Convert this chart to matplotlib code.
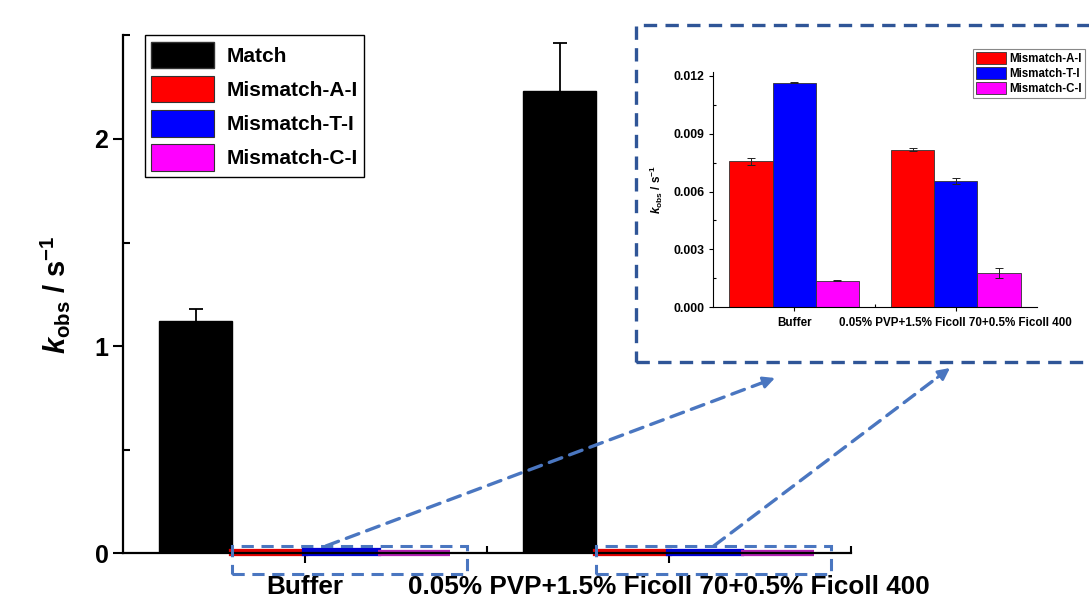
import numpy as np
import matplotlib
matplotlib.use('Agg')
import matplotlib.pyplot as plt
from matplotlib.patches import Rectangle
from matplotlib.ticker import MultipleLocator, FixedLocator

plt.rcParams['font.family'] = ['Liberation Sans', 'DejaVu Sans']
plt.rcParams['font.weight'] = 'bold'
plt.rcParams['axes.labelweight'] = 'bold'
plt.rcParams['mathtext.fontset'] = 'custom'
plt.rcParams['mathtext.rm'] = 'Liberation Sans:bold'
plt.rcParams['mathtext.it'] = 'Liberation Sans:bold:italic'
plt.rcParams['mathtext.bf'] = 'Liberation Sans:bold'

# data
groups = ['Buffer', '0.05% PVP+1.5% Ficoll 70+0.5% Ficoll 400']
series = ['Match', 'Mismatch-A-I', 'Mismatch-T-I', 'Mismatch-C-I']
match = [1.12, 2.23]
match_err = [0.06, 0.235]
mis_a = [0.00756, 0.00818]
mis_a_err = [0.0002, 0.0001]
mis_t = [0.01165, 0.00655]
mis_t_err = [0.00002, 0.00016]
mis_c = [0.00138, 0.00178]
mis_c_err = [0.00002, 0.00026]
colors = ['black', '#ff0000', '#0000ff', '#ff00ff']
strip_colors = ['black', '#e00000', '#0000d0', '#b020b0']

values = [match, mis_a, mis_t, mis_c]
errors = [match_err, mis_a_err, mis_t_err, mis_c_err]

box_col = '#4a76c0'
frame_col = '#2f5597'
ylab = r'$\mathit{k}_{\mathrm{obs}}$ / s$^{\mathrm{-1}}$'

fig = plt.figure(figsize=(10.89, 6.0), dpi=100)
ax = fig.add_axes([0.113, 0.078, 0.668, 0.863])

x = np.arange(1, len(groups) + 1)
w = 0.2
for i, (vals, errs) in enumerate(zip(values, errors)):
    pos = x + (i - 1.5) * w
    if i == 0:
        ax.bar(pos, vals, w, color=colors[i], label=series[i], edgecolor='black', linewidth=1.0,
               yerr=errs, capsize=5, error_kw=dict(ecolor='black', elinewidth=1.3, capthick=1.3))
    else:
        # tiny values: outline in the series colour so they read as strips
        ax.bar(pos, vals, w, color=colors[i], edgecolor=strip_colors[i], linewidth=4.5,
               zorder=2, clip_on=False)
        ax.bar(pos, 0, 0, color=colors[i], edgecolor='#333333', linewidth=0.8, label=series[i])

ax.set_xlim(0.5, 2.5)
ax.set_ylim(0, 2.5)
ax.spines['top'].set_visible(False)
ax.spines['right'].set_visible(False)
ax.spines['left'].set_linewidth(1.6)
ax.spines['bottom'].set_linewidth(1.6)
ax.spines['bottom'].set_zorder(4)
ax.set_xticks(x)
ax.set_xticklabels(groups, fontsize=18.8, fontweight='bold')
ax.xaxis.set_minor_locator(FixedLocator([1.5, 2.5]))
ax.yaxis.set_major_locator(MultipleLocator(1))
ax.yaxis.set_minor_locator(MultipleLocator(0.5))
ax.tick_params(axis='both', which='major', direction='out', length=7, width=1.5, labelsize=18)
ax.tick_params(axis='x', which='major', labelsize=18.8, pad=9)
ax.tick_params(axis='both', which='minor', direction='in', length=5, width=1.5)
ax.set_ylabel(ylab, fontsize=21, fontweight='bold', labelpad=16)

leg = ax.legend(loc='upper left', bbox_to_anchor=(0.03, 1.0), borderaxespad=0,
                handlelength=3.0, handleheight=1.6, labelspacing=0.35,
                handletextpad=0.6, borderpad=0.3, fancybox=False,
                edgecolor='black', framealpha=1, prop={'weight': 'bold', 'size': 15})
leg.get_frame().set_linewidth(1.0)
leg.legend_handles[0].set_edgecolor('#333333')

# dashed boxes around the mismatch bars
for gx in x:
    r = Rectangle((gx - 0.2, -0.10), 0.645, 0.135, fill=False, ls=(0, (4, 2.5)),
                  lw=2.2, edgecolor=box_col, clip_on=False, zorder=5)
    ax.add_patch(r)

# inset
ins = fig.add_axes([0.655, 0.488, 0.297, 0.392])
wi = 0.8 / 3
for i, (vals, errs) in enumerate(zip(values[1:], errors[1:])):
    pos = x + (i - 1) * wi
    ins.bar(pos, vals, wi, color=colors[i + 1], label=series[i + 1],
            edgecolor='#333333', linewidth=0.6,
            yerr=errs, capsize=3, error_kw=dict(ecolor='#222222', elinewidth=0.7, capthick=0.7))
ins.set_xlim(0.5, 2.5)
ins.set_ylim(0, 0.0122)
ins.spines['top'].set_visible(False)
ins.spines['right'].set_visible(False)
ins.set_xticks(x)
ins.set_xticklabels(groups, fontsize=8.4, fontweight='bold')
ins.xaxis.set_minor_locator(FixedLocator([1.5]))
ins.yaxis.set_major_locator(MultipleLocator(0.003))
ins.yaxis.set_minor_locator(MultipleLocator(0.0015))
ins.yaxis.set_major_formatter(plt.FuncFormatter(lambda v, p: f'{v:.3f}'))
ins.tick_params(axis='both', which='major', direction='out', length=3, width=0.8, labelsize=8.8)
ins.tick_params(axis='x', which='major', labelsize=8.4, pad=4)
ins.tick_params(axis='both', which='minor', direction='in', length=2, width=0.8)
ins.set_ylabel(ylab, fontsize=8.5, fontweight='bold', labelpad=6)
ileg = ins.legend(loc='upper left', bbox_to_anchor=(973 / 1089, 1 - 49 / 600),
                  bbox_transform=fig.transFigure, borderaxespad=0, borderpad=0.25,
                  handlelength=2.6, handleheight=1.2, labelspacing=0.2,
                  handletextpad=0.3, fancybox=False, edgecolor='#888888', framealpha=1,
                  prop={'weight': 'bold', 'size': 8.3})
ileg.get_frame().set_linewidth(0.8)

# dashed frame around inset
fig.patches.append(Rectangle((636 / 1089, 1 - 362 / 600), 0.44, 337 / 600,
                             transform=fig.transFigure, fill=False, ls=(0, (4, 2.5)),
                             lw=2.4, edgecolor=frame_col, clip_on=False))

# dashed arrows from the boxes to the inset, with solid heads
for start, end in [((1.058, 0.035), (775, 600 - 378)),
                   ((2.124, 0.035), (950, 600 - 368))]:
    p0 = ax.transData.transform(start)
    p1 = np.array(end, dtype=float)
    d = (p1 - p0) / np.hypot(*(p1 - p0))
    pb = p1 - 14 * d
    ax.annotate('', xy=tuple(pb), xycoords='figure pixels', xytext=start, textcoords='data',
                arrowprops=dict(arrowstyle='-', ls=(0, (4, 2.5)), lw=2.4,
                                color=box_col, shrinkA=0, shrinkB=0), annotation_clip=False)
    ax.annotate('', xy=tuple(p1), xycoords='figure pixels', xytext=tuple(pb - 2 * d),
                textcoords='figure pixels',
                arrowprops=dict(arrowstyle='-|>,head_length=0.7,head_width=0.35', lw=2.0,
                                color=box_col, shrinkA=0, shrinkB=0), annotation_clip=False)

fig.savefig('out.png', dpi=100)
